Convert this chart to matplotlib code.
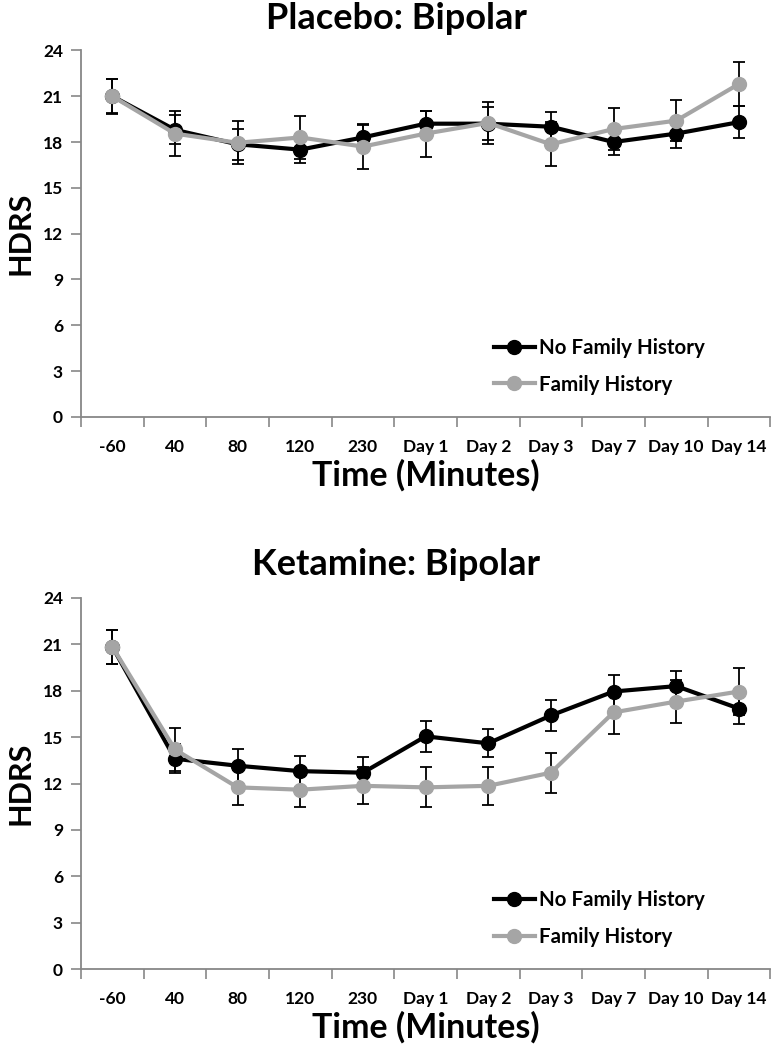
import matplotlib.pyplot as plt
import numpy as np

times = ["-60", "40", "80", "120", "230", "Day 1", "Day 2", "Day 3", "Day 7", "Day 10", "Day 14"]

# Placebo: Bipolar
plac_nofam = [21.0, 18.8, 17.85, 17.5, 18.3, 19.2, 19.2, 19.0, 18.0, 18.55, 19.3]
plac_nofam_err = [1.1, 0.95, 1.0, 0.85, 0.8, 0.85, 1.1, 0.95, 0.85, 0.92, 1.05]
plac_fam = [21.0, 18.55, 17.95, 18.3, 17.7, 18.55, 19.25, 17.85, 18.85, 19.4, 21.8]
plac_fam_err = [1.15, 1.45, 1.4, 1.4, 1.5, 1.5, 1.4, 1.45, 1.4, 1.35, 1.45]

# Ketamine: Bipolar
ket_nofam = [20.85, 13.6, 13.15, 12.8, 12.7, 15.05, 14.6, 16.4, 17.95, 18.3, 16.85]
ket_nofam_err = [1.1, 0.95, 1.1, 1.0, 1.0, 1.0, 0.9, 1.0, 1.1, 1.0, 1.0]
ket_fam = [20.85, 14.2, 11.75, 11.6, 11.85, 11.75, 11.85, 12.7, 16.6, 17.3, 17.95]
ket_fam_err = [1.1, 1.4, 1.15, 1.15, 1.2, 1.3, 1.25, 1.3, 1.4, 1.4, 1.5]

BLACK = "#000000"
GRAY = "#A5A5A5"
AXC = "#878787"
FONT = "Lato"

fig = plt.figure(figsize=(7.71, 10.5), dpi=100)
ax1 = fig.add_axes([0.105, 0.603, 0.894, 0.349])
ax2 = fig.add_axes([0.105, 0.0771, 0.894, 0.3534])

panels = [
    (ax1, "Placebo: Bipolar", plac_nofam, plac_nofam_err, plac_fam, plac_fam_err, 0.982),
    (ax2, "Ketamine: Bipolar", ket_nofam, ket_nofam_err, ket_fam, ket_fam_err, 0.462),
]

x = np.arange(len(times))
for ax, title, nf, nfe, fm, fme, ty in panels:
    ax.errorbar(x, nf, yerr=nfe, fmt="none", ecolor=BLACK, elinewidth=1.3,
                capsize=4, capthick=1.3, zorder=2)
    ax.errorbar(x, fm, yerr=fme, fmt="none", ecolor=BLACK, elinewidth=1.3,
                capsize=4, capthick=1.3, zorder=2)
    ax.plot(x, nf, color=BLACK, lw=3, marker="o", ms=10, label="No Family History", zorder=3)
    ax.plot(x, fm, color=GRAY, lw=3, marker="o", ms=10, label="Family History", zorder=4)

    ax.set_xlim(-0.5, len(times) - 0.5)
    ax.set_ylim(0, 24)
    ax.set_yticks(np.arange(0, 25, 3))
    ax.set_xticks(np.arange(len(times) + 1) - 0.5)
    ax.set_xticklabels([])
    ax.set_xticks(x, minor=True)
    ax.set_xticklabels(times, minor=True)
    ax.tick_params(axis="x", which="major", length=7, width=1.2, color=AXC, direction="out")
    ax.tick_params(axis="x", which="minor", length=0, pad=16, labelsize=12.5)
    ax.tick_params(axis="y", length=7, width=1.2, color=AXC, direction="out", pad=6, labelsize=12.5)
    for lab in ax.get_xticklabels(minor=True) + ax.get_yticklabels():
        lab.set_fontfamily(FONT)
        lab.set_fontweight("bold")
    for s in ["top", "right"]:
        ax.spines[s].set_visible(False)
    for s in ["left", "bottom"]:
        ax.spines[s].set_color(AXC)
        ax.spines[s].set_linewidth(1.3)

    ax.set_ylabel("HDRS", fontsize=22, fontweight="bold", fontfamily=FONT, labelpad=6)
    ax.set_xlabel("Time (Minutes)", fontsize=24.5, fontweight="bold", fontfamily=FONT, labelpad=3)
    fig.text(0.514, ty, title, ha="center", va="center", fontsize=26,
             fontweight="bold", fontfamily=FONT)

    ax.legend(loc="lower left", bbox_to_anchor=(0.572, 0.01), frameon=False,
              handlelength=2.0, handletextpad=0.2, labelspacing=0.8,
              prop={"family": FONT, "weight": "bold", "size": 14.8})

plt.savefig("out.png", dpi=100)
